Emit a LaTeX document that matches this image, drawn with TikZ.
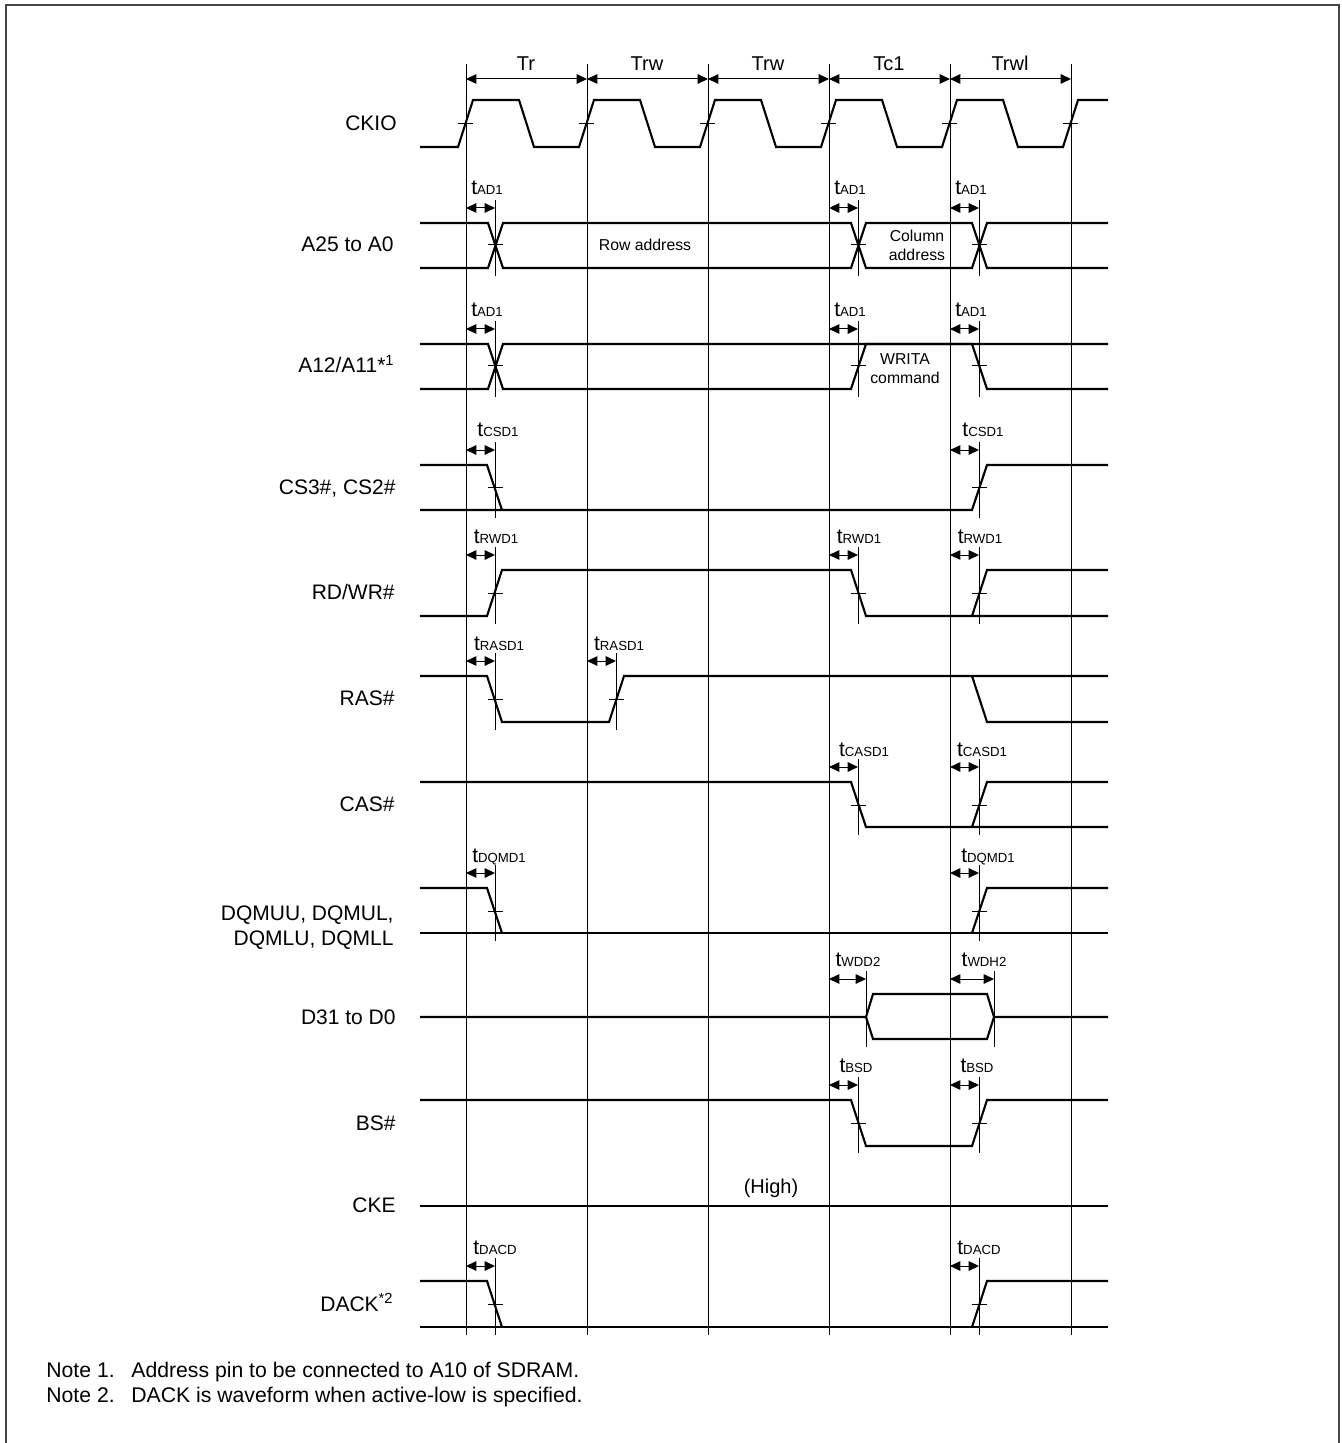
\documentclass[tikz,border=0pt]{standalone}
\usepackage{fontspec}
\setmainfont{Liberation Sans}
\usetikzlibrary{arrows.meta}

\definecolor{framegray}{gray}{.27}
\newcommand{\tsub}[1]{t{\fontsize{6.6}{8}\selectfont #1}}

\begin{document}
\begin{tikzpicture}[x=.5pt, y=-.5pt,
    sig/.style={line width=1.05pt, line join=miter},
    gridline/.style={line width=.5pt},
    delay/.style={line width=.5pt},
    span/.style={line width=.5pt, {Triangle[length=5.2pt,width=4.8pt]}-{Triangle[length=5.2pt,width=4.8pt]}},
    pinlabel/.style={font=\fontsize{10.5}{12.5}\selectfont, inner sep=0, anchor=base east},
    timelabel/.style={font=\fontsize{10.5}{12}\selectfont, inner sep=0, anchor=base},
    cyclelabel/.style={font=\fontsize{10}{12}\selectfont, inner sep=0, anchor=base},
    smalllabel/.style={font=\fontsize{7.9}{9.5}\selectfont, inner sep=0, align=center},
    notelabel/.style={font=\fontsize{10.6}{12}\selectfont, inner sep=0, anchor=base west}]

    \useasboundingbox (0, 0) rectangle (1341, 1443);

    % frame, open at the bottom
    \draw [framegray, line width=1pt] (6, 1443) to (6, 5) to (1339, 5) to (1339, 1443);

    % clock grid
    \draw [gridline] (466, 64) to (466, 1335);
    \draw [gridline] (587, 64) to (587, 1335);
    \draw [gridline] (708, 64) to (708, 1335);
    \draw [gridline] (829, 64) to (829, 1335);
    \draw [gridline] (950, 64) to (950, 1335);
    \draw [gridline] (1071, 64) to (1071, 1335);

    % cycles
    \draw [span] (466, 79) to (587, 79);
    \draw [span] (587, 79) to (708, 79);
    \draw [span] (708, 79) to (829, 79);
    \draw [span] (829, 79) to (950, 79);
    \draw [span] (950, 79) to (1071, 79);
    \node [cyclelabel] (cyc1) at (526, 71) {Tr};
    \node [cyclelabel] (cyc2) at (647, 71) {Trw};
    \node [cyclelabel] (cyc3) at (768, 71) {Trw};
    \node [cyclelabel] (cyc4) at (889, 71) {Tc1};
    \node [cyclelabel] (cyc5) at (1010, 71) {Trwl};

    % CKIO
    \node [pinlabel] (ckio) at (397, 131) {CKIO};
    \draw [sig] (420, 147) to (458, 147) to (473, 100) to (519, 100) to (534, 147)
        to (579, 147) to (594, 100) to (640, 100) to (655, 147)
        to (700, 147) to (715, 100) to (761, 100) to (776, 147)
        to (821, 147) to (836, 100) to (882, 100) to (897, 147)
        to (942, 147) to (957, 100) to (1003, 100) to (1018, 147)
        to (1063, 147) to (1078, 100) to (1108, 100);
    \draw [delay] (458, 124) to (473, 124);
    \draw [delay] (579, 124) to (594, 124);
    \draw [delay] (700, 124) to (715, 124);
    \draw [delay] (821, 124) to (836, 124);
    \draw [delay] (942, 124) to (957, 124);
    \draw [delay] (1063, 124) to (1078, 124);

    % A25 to A0
    \node [pinlabel] (addr) at (394, 252) {A25 to A0};
    \draw [sig] (420, 223) to (488, 223) to (503, 268) to (851, 268) to (866, 223) to (972, 223) to (987, 268) to (1108, 268);
    \draw [sig] (420, 268) to (488, 268) to (503, 223) to (851, 223) to (866, 268) to (972, 268) to (987, 223) to (1108, 223);
    \node [smalllabel] (rowaddr) at (645, 245) {Row address};
    \node [smalllabel] (coladdr) at (917, 245) {Column\\address};
    \draw [delay] (495, 200) to (495, 276);
    \draw [delay] (858, 200) to (858, 276);
    \draw [delay] (979, 200) to (979, 276);
    \draw [delay] (488, 245) to (503, 245);
    \draw [delay] (851, 245) to (866, 245);
    \draw [delay] (972, 245) to (987, 245);
    \draw [span] (466, 208) to (495, 208);
    \draw [span] (829, 208) to (858, 208);
    \draw [span] (950, 208) to (979, 208);
    \node [timelabel] (ad1) at (487, 195) {\tsub{AD1}};
    \node [timelabel] (ad2) at (850, 195) {\tsub{AD1}};
    \node [timelabel] (ad3) at (971, 195) {\tsub{AD1}};

    % A12/A11
    \node [pinlabel] (a12) at (395, 373) {A12/A11*\textsuperscript{1}};
    \draw [sig] (420, 344) to (488, 344) to (503, 389) to (851, 389) to (866, 344) to (1108, 344);
    \draw [sig] (420, 389) to (488, 389) to (503, 344) to (972, 344) to (987, 389) to (1108, 389);
    \node [smalllabel] (writa) at (905, 369) {WRITA\\command};
    \draw [delay] (495, 321) to (495, 397);
    \draw [delay] (858, 321) to (858, 397);
    \draw [delay] (979, 321) to (979, 397);
    \draw [delay] (488, 366) to (503, 366);
    \draw [delay] (851, 366) to (866, 366);
    \draw [delay] (972, 366) to (987, 366);
    \draw [span] (466, 329) to (495, 329);
    \draw [span] (829, 329) to (858, 329);
    \draw [span] (950, 329) to (979, 329);
    \node [timelabel] (ad4) at (487, 317) {\tsub{AD1}};
    \node [timelabel] (ad5) at (850, 317) {\tsub{AD1}};
    \node [timelabel] (ad6) at (971, 317) {\tsub{AD1}};

    % CS3#, CS2#
    \node [pinlabel] (cs) at (396, 494) {CS3\#, CS2\#};
    \draw [sig] (420, 465) to (487, 465) to (502, 510);
    \draw [sig] (420, 510) to (972, 510) to (987, 465) to (1108, 465);
    \draw [delay] (495, 442) to (495, 518);
    \draw [delay] (979, 442) to (979, 518);
    \draw [delay] (488, 487) to (503, 487);
    \draw [delay] (972, 487) to (987, 487);
    \draw [span] (466, 450) to (495, 450);
    \draw [span] (950, 450) to (979, 450);
    \node [timelabel] (csd1) at (498, 437) {\tsub{CSD1}};
    \node [timelabel] (csd2) at (983, 437) {\tsub{CSD1}};

    % RD/WR#
    \node [pinlabel] (rdwr) at (395, 599) {RD/WR\#};
    \draw [sig] (420, 616) to (487, 616) to (502, 570) to (851, 570) to (866, 616) to (1108, 616);
    \draw [sig] (972, 616) to (987, 570) to (1108, 570);
    \draw [delay] (495, 547) to (495, 624);
    \draw [delay] (858, 547) to (858, 624);
    \draw [delay] (979, 547) to (979, 624);
    \draw [delay] (488, 593) to (503, 593);
    \draw [delay] (851, 593) to (866, 593);
    \draw [delay] (972, 593) to (987, 593);
    \draw [span] (466, 555) to (495, 555);
    \draw [span] (829, 555) to (858, 555);
    \draw [span] (950, 555) to (979, 555);
    \node [timelabel] (rwd1) at (496, 543) {\tsub{RWD1}};
    \node [timelabel] (rwd2) at (859, 543) {\tsub{RWD1}};
    \node [timelabel] (rwd3) at (980, 543) {\tsub{RWD1}};

    % RAS#
    \node [pinlabel] (ras) at (395, 705) {RAS\#};
    \draw [sig] (420, 676) to (487, 676) to (502, 722) to (609, 722) to (624, 676) to (1108, 676);
    \draw [sig] (972, 676) to (987, 722) to (1108, 722);
    \draw [delay] (495, 653) to (495, 730);
    \draw [delay] (616, 653) to (616, 730);
    \draw [delay] (488, 699) to (503, 699);
    \draw [delay] (609, 699) to (624, 699);
    \draw [span] (466, 661) to (495, 661);
    \draw [span] (587, 661) to (616, 661);
    \node [timelabel] (rasd1) at (499, 650) {\tsub{RASD1}};
    \node [timelabel] (rasd2) at (619, 650) {\tsub{RASD1}};

    % CAS#
    \node [pinlabel] (cas) at (395, 811) {CAS\#};
    \draw [sig] (420, 782) to (851, 782) to (866, 827) to (1108, 827);
    \draw [sig] (972, 827) to (987, 782) to (1108, 782);
    \draw [delay] (858, 759) to (858, 835);
    \draw [delay] (979, 759) to (979, 835);
    \draw [delay] (851, 805) to (866, 805);
    \draw [delay] (972, 805) to (987, 805);
    \draw [span] (829, 767) to (858, 767);
    \draw [span] (950, 767) to (979, 767);
    \node [timelabel] (casd1) at (864, 756) {\tsub{CASD1}};
    \node [timelabel] (casd2) at (982, 756) {\tsub{CASD1}};

    % DQM
    \node [pinlabel, anchor=east, align=right] (dqm) at (394, 927.5) {DQMUU, DQMUL,\\DQMLU, DQMLL};
    \draw [sig] (420, 888) to (487, 888) to (502, 933);
    \draw [sig] (420, 933) to (1108, 933);
    \draw [sig] (972, 933) to (987, 888) to (1108, 888);
    \draw [delay] (495, 865) to (495, 941);
    \draw [delay] (979, 865) to (979, 941);
    \draw [delay] (488, 911) to (503, 911);
    \draw [delay] (972, 911) to (987, 911);
    \draw [span] (466, 873) to (495, 873);
    \draw [span] (950, 873) to (979, 873);
    \node [timelabel] (dqmd1) at (499, 862) {\tsub{DQMD1}};
    \node [timelabel] (dqmd2) at (988, 862) {\tsub{DQMD1}};

    % D31 to D0
    \node [pinlabel] (data) at (396, 1024) {D31 to D0};
    \draw [sig] (420, 1017) to (866, 1017) to (873, 994) to (987, 994) to (994, 1017) to (1108, 1017);
    \draw [sig] (866, 1017) to (873, 1039) to (987, 1039) to (994, 1017);
    \draw [delay] (866, 971) to (866, 1047);
    \draw [delay] (994, 971) to (994, 1047);
    \draw [span] (829, 979) to (866, 979);
    \draw [span] (950, 979) to (994, 979);
    \node [timelabel] (wdd) at (858, 966) {\tsub{WDD2}};
    \node [timelabel] (wdh) at (984, 966) {\tsub{WDH2}};

    % BS#
    \node [pinlabel] (bs) at (396, 1130) {BS\#};
    \draw [sig] (420, 1100) to (851, 1100) to (866, 1146) to (972, 1146) to (987, 1100) to (1108, 1100);
    \draw [delay] (858, 1077) to (858, 1153);
    \draw [delay] (979, 1077) to (979, 1153);
    \draw [delay] (851, 1123) to (866, 1123);
    \draw [delay] (972, 1123) to (987, 1123);
    \draw [span] (829, 1085) to (858, 1085);
    \draw [span] (950, 1085) to (979, 1085);
    \node [timelabel] (bsd1) at (856, 1072) {\tsub{BSD}};
    \node [timelabel] (bsd2) at (977, 1072) {\tsub{BSD}};

    % CKE
    \node [pinlabel] (cke) at (396, 1212) {CKE};
    \draw [sig] (420, 1206) to (1108, 1206);
    \node [cyclelabel] (high) at (771, 1193) {(High)};

    % DACK
    \node [pinlabel] (dack) at (394, 1311) {DACK\textsuperscript{*2}};
    \draw [sig] (420, 1281) to (487, 1281) to (502, 1327);
    \draw [sig] (420, 1327) to (1108, 1327);
    \draw [sig] (972, 1327) to (987, 1281) to (1108, 1281);
    \draw [delay] (495, 1258) to (495, 1335);
    \draw [delay] (979, 1258) to (979, 1335);
    \draw [delay] (488, 1304) to (503, 1304);
    \draw [delay] (972, 1304) to (987, 1304);
    \draw [span] (466, 1266) to (495, 1266);
    \draw [span] (950, 1266) to (979, 1266);
    \node [timelabel] (dacd1) at (495, 1254) {\tsub{DACD}};
    \node [timelabel] (dacd2) at (979, 1254) {\tsub{DACD}};

    % notes
    \node [notelabel] (note1) at (46, 1377) {Note 1.};
    \node [notelabel] (note1t) at (131, 1377) {Address pin to be connected to A10 of SDRAM.};
    \node [notelabel] (note2) at (46, 1402) {Note 2.};
    \node [notelabel] (note2t) at (131, 1402) {DACK is waveform when active-low is specified.};

\end{tikzpicture}
\end{document}
